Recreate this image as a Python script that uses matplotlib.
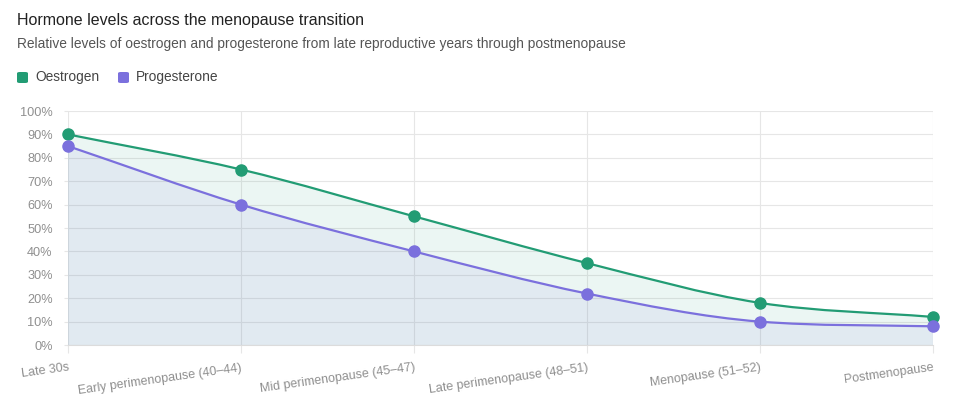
import numpy as np
import matplotlib

matplotlib.use("Agg")
import matplotlib.pyplot as plt
from matplotlib.path import Path
from matplotlib.patches import PathPatch, FancyBboxPatch
from matplotlib.ticker import FuncFormatter, MultipleLocator

stages = [
    "Late 30s",
    "Early perimenopause (40–44)",
    "Mid perimenopause (45–47)",
    "Late perimenopause (48–51)",
    "Menopause (51–52)",
    "Postmenopause",
]
oestrogen = [90, 75, 55, 35, 18, 12]
progesterone = [85, 60, 40, 22, 10, 8]

GREEN = "#229c74"
PURPLE = "#7b70dd"
GRID = "#e6e6e6"

plt.rcParams["font.family"] = ["Liberation Sans", "DejaVu Sans"]


def monotone_path(xs, ys, close_to=None):
    # monotone cubic bezier through the points (like chart.js "monotone")
    xs = np.asarray(xs, dtype=float)
    ys = np.asarray(ys, dtype=float)
    n = len(xs)
    dx = np.diff(xs)
    slopes = np.diff(ys) / dx
    m = np.zeros(n)
    m[0] = slopes[0]
    m[-1] = slopes[-1]
    for i in range(1, n - 1):
        m[i] = 0 if slopes[i - 1] * slopes[i] <= 0 else (slopes[i - 1] + slopes[i]) / 2
    for i in range(n - 1):
        if slopes[i] == 0:
            m[i] = m[i + 1] = 0
            continue
        a, b = m[i] / slopes[i], m[i + 1] / slopes[i]
        s = a * a + b * b
        if s > 9:
            t = 3 / np.sqrt(s)
            m[i] = t * a * slopes[i]
            m[i + 1] = t * b * slopes[i]
    verts = [(xs[0], ys[0])]
    codes = [Path.MOVETO]
    for i in range(n - 1):
        h = dx[i] / 3
        verts += [(xs[i] + h, ys[i] + m[i] * h), (xs[i + 1] - h, ys[i + 1] - m[i + 1] * h), (xs[i + 1], ys[i + 1])]
        codes += [Path.CURVE4] * 3
    if close_to is not None:
        verts += [(xs[-1], close_to), (xs[0], close_to), (xs[0], ys[0])]
        codes += [Path.LINETO, Path.LINETO, Path.CLOSEPOLY]
    return Path(verts, codes)


fig = plt.figure(figsize=(9.54, 4.13), dpi=100)
ax = fig.add_axes([0.0713, 0.1646, 0.9067, 0.5666])

x = np.arange(len(stages))
for values, color in [(oestrogen, GREEN), (progesterone, PURPLE)]:
    ax.add_patch(PathPatch(monotone_path(x, values, close_to=0), facecolor=color, alpha=0.085, edgecolor="none", zorder=1))
for values, color in [(oestrogen, GREEN), (progesterone, PURPLE)]:
    ax.add_patch(PathPatch(monotone_path(x, values), facecolor="none", edgecolor=color, linewidth=1.6, zorder=3))
    ax.plot(x, values, "o", color=color, markersize=8, zorder=4, clip_on=False)

ax.set_xlim(0, len(stages) - 1)
ax.set_ylim(0, 100)
ax.yaxis.set_major_locator(MultipleLocator(10))
ax.yaxis.set_major_formatter(FuncFormatter(lambda v, _: f"{v:.0f}%"))
ax.set_xticks(x)
ax.set_xticklabels(stages, rotation=8, ha="right", va="top", rotation_mode="anchor")
ax.grid(True, color=GRID, linewidth=0.8, zorder=0)
ax.set_axisbelow(True)
for side in ["top", "right", "left"]:
    ax.spines[side].set_visible(False)
ax.spines["bottom"].set_color("#dcdcdc")
ax.tick_params(axis="y", length=3, color=GRID, pad=8, labelsize=9.2, labelcolor="#8f8f8f")
ax.tick_params(axis="x", length=6, color=GRID, pad=6, labelsize=9, labelcolor="#8f8f8f")

fig.text(17 / 954, 1 - 20 / 413, "Hormone levels across the menopause transition",
         fontsize=11.5, color="#222222", va="center")
fig.text(17 / 954, 1 - 44 / 413,
         "Relative levels of oestrogen and progesterone from late reproductive years through postmenopause",
         fontsize=9.9, color="#555555", va="center")

# legend
for lx, label, color in [(17, "Oestrogen", GREEN), (118, "Progesterone", PURPLE)]:
    fig.patches.append(FancyBboxPatch(
        (lx / 954, 1 - 83 / 413), 11 / 954, 11 / 413,
        boxstyle="round,pad=0,rounding_size=0.003", transform=fig.transFigure,
        facecolor=color, edgecolor="none"))
    fig.text((lx + 18) / 954, 1 - 77.5 / 413, label, fontsize=9.9, color="#444444", va="center")

fig.savefig("out.png", dpi=100)
